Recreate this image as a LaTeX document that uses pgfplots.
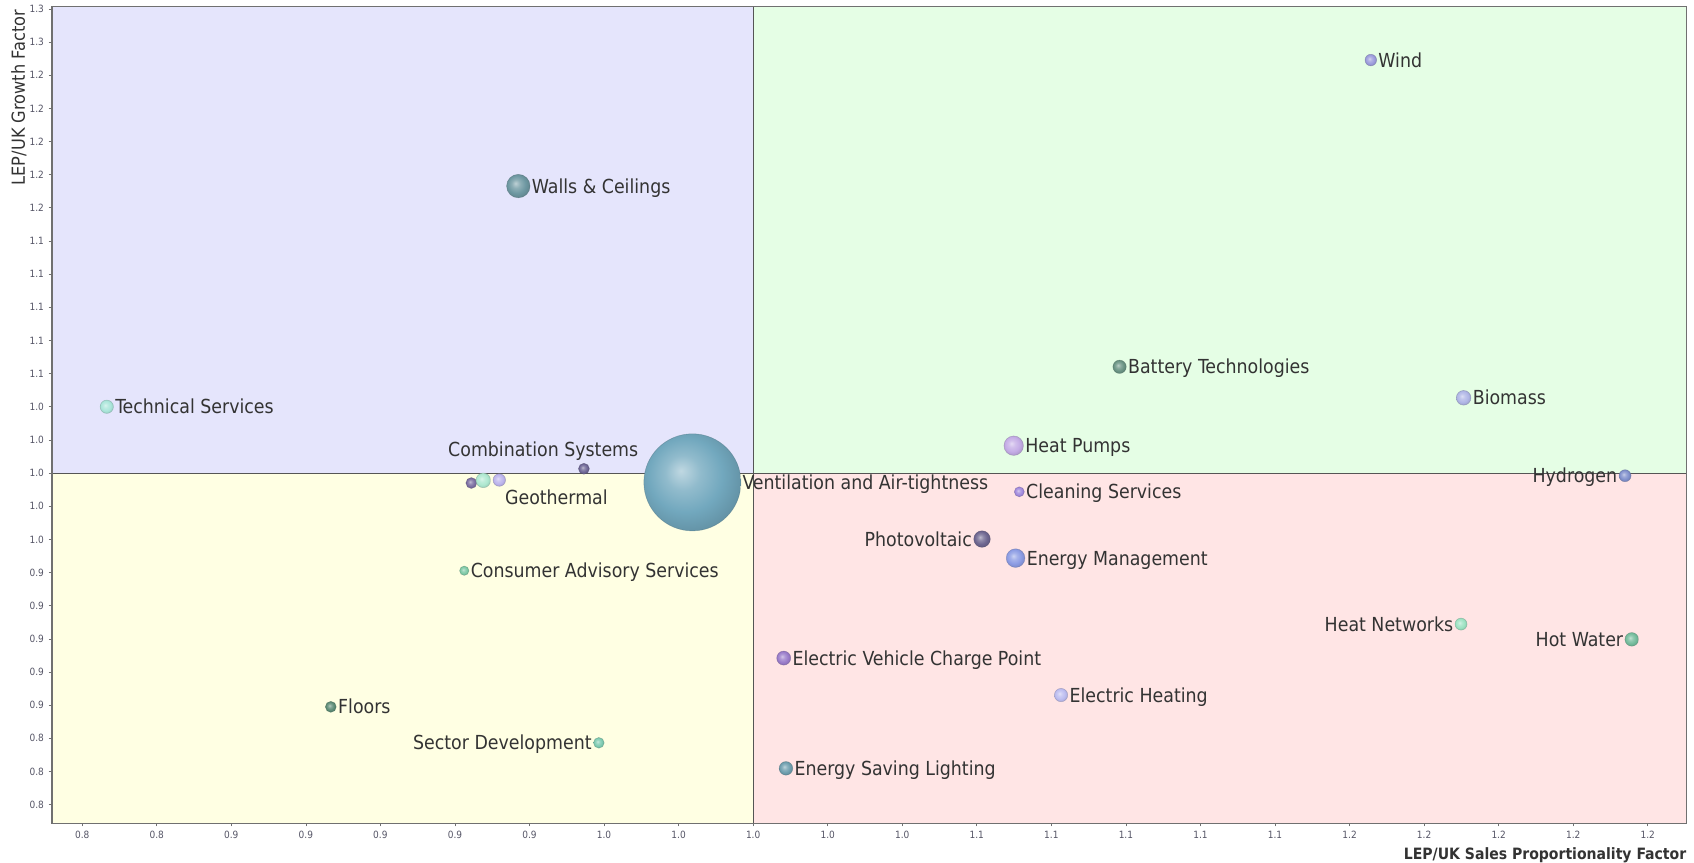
\documentclass[border=0pt]{standalone}
\usepackage{fontspec}
\setmainfont{DejaVu Sans Condensed}
\usepackage{pgfplots}
\pgfplotsset{compat=1.18}

\definecolor{txtc}{HTML}{333333}
\definecolor{tickc}{HTML}{555566}
\definecolor{framec}{HTML}{707070}
\definecolor{quadline}{HTML}{555555}
\definecolor{qtl}{HTML}{E5E5FC}
\definecolor{qtr}{HTML}{E5FEE5}
\definecolor{qbl}{HTML}{FFFFE3}
\definecolor{qbr}{HTML}{FFE5E5}

% shaded bubble marker, colour taken from bubcol
\colorlet{bubcol}{gray}
\pgfdeclareradialshading[bubcol]{bubshade}{\pgfqpoint{-6bp}{6bp}}{%
  color(0bp)=(bubcol!45!white); color(9bp)=(bubcol!78!white);
  color(19bp)=(bubcol); color(30bp)=(bubcol!85!black); color(50bp)=(bubcol!80!black)}
\pgfdeclareplotmark{bub}{%
  \pgfpathcircle{\pgfpointorigin}{\pgfplotmarksize}%
  \pgfshadepath{bubshade}{0}%
  \pgfsetstrokecolor{bubcol!70!black}%
  \pgfsetstrokeopacity{0.5}%
  \pgfsetlinewidth{0.4pt}%
  \pgfusepath{stroke}}

\newcommand\labfont{\fontsize{14.5}{16}\selectfont}

\pgfplotsset{
  bub/.style 2 args={only marks, mark=bub, mark size=#2,
    mark options={/utils/exec={\definecolor{bubcol}{HTML}{#1}}}},
  labR/.style 2 args={nodes near coords={#1},
    every node near coord/.style={anchor=base west, xshift=#2, yshift=-5.3pt,
      inner sep=0pt, font=\labfont, text=txtc}},
  labL/.style 2 args={nodes near coords={#1},
    every node near coord/.style={anchor=base east, xshift=-#2, yshift=-5.3pt,
      inner sep=0pt, font=\labfont, text=txtc}},
  labC/.style n args={3}{nodes near coords={#1},
    every node near coord/.style={anchor=center, xshift=#2, yshift=#3,
      inner sep=0pt, font=\labfont, text=txtc}},
}

\begin{document}
\begin{tikzpicture}
\begin{axis}[
  scale only axis,
  width=1225.9pt, height=612.4pt,
  xmin=0.8119, xmax=1.2504, ymin=0.7889, ymax=1.2814,
  clip=false,
  axis on top,
  axis line style={draw=framec, line width=0.8pt},
  tick style={draw=framec, line width=0.5pt},
  tick align=outside, major tick length=2.5pt,
  xtick pos=bottom, ytick pos=left,
  xtick={0.82,0.84,0.86,0.88,0.90,0.92,0.94,0.96,0.98,1.00,1.02,1.04,1.06,1.08,1.10,1.12,1.14,1.16,1.18,1.20,1.22,1.24},
  ytick={0.80,0.82,0.84,0.86,0.88,0.90,0.92,0.94,0.96,0.98,1.00,1.02,1.04,1.06,1.08,1.10,1.12,1.14,1.16,1.18,1.20,1.22,1.24,1.26,1.28},
  ticklabel style={font=\fontsize{7.5}{9}\selectfont, text=tickc},
  /pgf/number format/.cd, fixed, fixed zerofill, precision=1, assume math mode=true,
  /pgfplots/.cd,
  xlabel={LEP/UK Sales Proportionality Factor},
  xlabel style={at={(axis description cs:1,0)}, anchor=base east, yshift=-27pt,
    inner sep=0pt, font=\bfseries\fontsize{11.7}{13}\selectfont, text=txtc},
  ylabel={LEP/UK Growth Factor},
  ylabel style={at={(axis description cs:-0.0202,0.996)}, anchor=east,
    inner sep=0pt, font=\fontsize{13.5}{15}\selectfont, text=txtc},
]
% quadrants
\fill[qtl] (axis cs:0.8119,1) rectangle (axis cs:1,1.2814);
\fill[qtr] (axis cs:1,1) rectangle (axis cs:1.2504,1.2814);
\fill[qbl] (axis cs:0.8119,0.7889) rectangle (axis cs:1,1);
\fill[qbr] (axis cs:1,0.7889) rectangle (axis cs:1.2504,1);
\draw[quadline, line width=0.8pt] (axis cs:1,0.7889) -- (axis cs:1,1.2814);
\draw[quadline, line width=0.8pt] (axis cs:0.8119,1) -- (axis cs:1.2504,1);

% bubbles
\addplot[bub={72A8BE}{36.4}, labR={Ventilation and Air-tightness}{37.4pt}] coordinates {(0.9837,0.9944)};
\addplot[bub={6E98A2}{8.8}, labR={Walls \& Ceilings}{10pt}] coordinates {(0.9370,1.1731)};
\addplot[bub={9C9CDC}{4.35}, labR={Wind}{5.5pt}] coordinates {(1.1657,1.2491)};
\addplot[bub={6A9484}{5.0}, labR={Battery Technologies}{6.2pt}] coordinates {(1.0983,1.0641)};
\addplot[bub={B0B6E6}{5.5}, labR={Biomass}{6.7pt}] coordinates {(1.1906,1.0454)};
\addplot[bub={AAE6DA}{5.0}, labR={Technical Services}{6.2pt}] coordinates {(0.8266,1.0400)};
\addplot[bub={C4ACE6}{7.3}, labR={Heat Pumps}{8.5pt}] coordinates {(1.0699,1.0165)};
\addplot[bub={6C6494}{4.1}, labC={Combination Systems}{-30.5pt}{13.3pt}] coordinates {(0.9546,1.0026)};
\addplot[bub={7A6CA0}{4.1}] coordinates {(0.9244,0.9940)};
\addplot[bub={AEE8D0}{5.5}] coordinates {(0.9276,0.9956)};
\addplot[bub={BCB4EC}{4.7}, labC={Geothermal}{42.8pt}{-13pt}] coordinates {(0.9319,0.9958)};
\addplot[bub={8090CC}{4.5}, labL={Hydrogen}{5.7pt}] coordinates {(1.2339,0.9984)};
\addplot[bub={A088DC}{3.75}, labR={Cleaning Services}{5pt}] coordinates {(1.0714,0.9887)};
\addplot[bub={6E6690}{6.2}, labL={Photovoltaic}{7.4pt}] coordinates {(1.0614,0.9602)};
\addplot[bub={8C9CE4}{7.0}, labR={Energy Management}{8.2pt}] coordinates {(1.0704,0.9487)};
\addplot[bub={7CC8A4}{3.5}, labR={Consumer Advisory Services}{4.7pt}] coordinates {(0.9225,0.9411)};
\addplot[bub={9CE2C2}{4.5}, labL={Heat Networks}{5.7pt}] coordinates {(1.1899,0.9089)};
\addplot[bub={74BC9C}{5.1}, labL={Hot Water}{6.3pt}] coordinates {(1.2357,0.8997)};
\addplot[bub={9A7CCA}{5.25}, labR={Electric Vehicle Charge Point}{6.4pt}] coordinates {(1.0082,0.8884)};
\addplot[bub={BCBCF0}{5.0}, labR={Electric Heating}{6.2pt}] coordinates {(1.0826,0.8661)};
\addplot[bub={5A8A74}{4.1}, labR={Floors}{5.3pt}] coordinates {(0.8867,0.8590)};
\addplot[bub={7CCAB0}{4.0}, labL={Sector Development}{5.2pt}] coordinates {(0.9586,0.8373)};
\addplot[bub={6E9EAE}{5.1}, labR={Energy Saving Lighting}{6.3pt}] coordinates {(1.0088,0.8219)};
\end{axis}
\path (current axis.south west) ++(-39pt,-29.25pt) coordinate (bbl);
\path (current axis.north east) ++(5.6pt,4.9pt) coordinate (bbr);
\path (bbl) rectangle (bbr);
\end{tikzpicture}
\end{document}
